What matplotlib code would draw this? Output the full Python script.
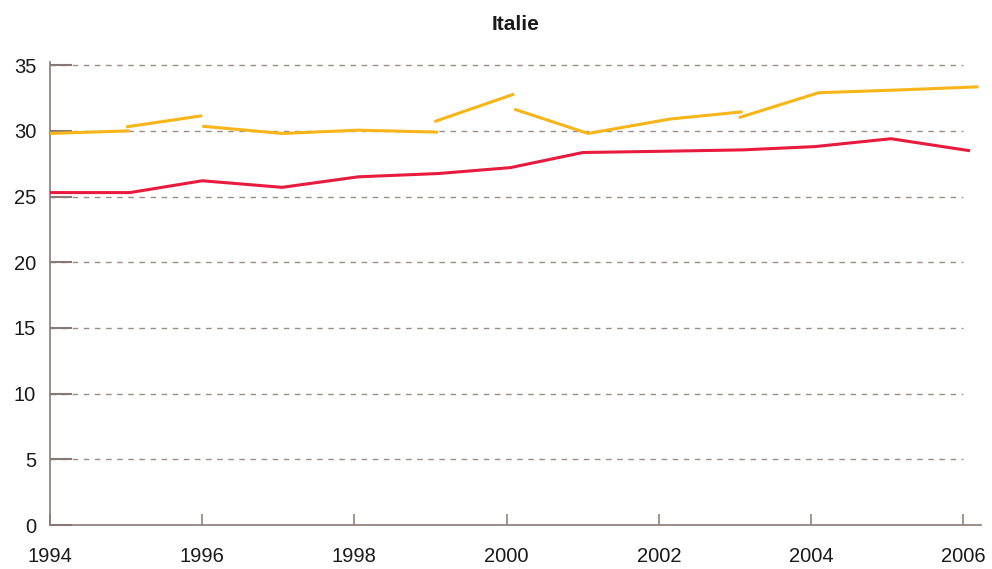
import matplotlib
matplotlib.use("Agg")
import matplotlib.pyplot as plt

plt.rcParams['font.family'] = ['Liberation Sans', 'DejaVu Sans']

# ----------------------------------------------------------------------
# Data (fractional years, percent)
# ----------------------------------------------------------------------
# Yellow series is drawn as separate, unconnected pieces
yellow_x = [
    [1994.0, 1995.05],
    [1995.0, 1996.0],
    [1996.0, 1997.05, 1998.05, 1999.1],
    [1999.05, 2000.1],
    [2000.1, 2001.07, 2002.15, 2003.1],
    [2003.05, 2004.1, 2005.1, 2006.2],
]
yellow_y = [
    [29.8, 30.0],
    [30.3, 31.15],
    [30.35, 29.8, 30.05, 29.9],
    [30.7, 32.8],
    [31.65, 29.8, 30.9, 31.45],
    [31.0, 32.9, 33.1, 33.35],
]

red_x = [1994.0, 1995.05, 1996.0, 1997.05, 1998.05, 1999.1, 2000.05,
         2001.0, 2002.1, 2003.1, 2004.05, 2005.05, 2006.07]
red_y = [25.3, 25.3, 26.2, 25.7, 26.5, 26.75, 27.2,
         28.35, 28.45, 28.55, 28.8, 29.4, 28.5]

y_ticks = [0, 5, 10, 15, 20, 25, 30, 35]
x_ticks = [1994, 1996, 1998, 2000, 2002, 2004, 2006]

AXIS_COL = "#877a74"
YELLOW = "#f7b518"
RED = "#e81b3f"

# ----------------------------------------------------------------------
fig = plt.figure(figsize=(9.92, 5.69), dpi=100)
ax = fig.add_axes([0.0504, 0.0773, 0.939, 0.814])

# dashed grid lines, stopping at 2006
ax.hlines(y_ticks[1:], x_ticks[0], x_ticks[-1], colors="#9a8d87",
          linestyles=(0, (4, 4)), linewidth=1.0, zorder=1)

for xs, ys in zip(yellow_x, yellow_y):
    ax.plot(xs, ys, color=YELLOW, lw=2.2, solid_capstyle="butt", zorder=3)
ax.plot(red_x, red_y, color=RED, lw=2.2, zorder=3)

ax.set_xlim(1994, 2006.24)
ax.set_ylim(0, 35.25)
ax.set_xticks(x_ticks)
ax.set_yticks(y_ticks)

for side in ("top", "right"):
    ax.spines[side].set_visible(False)
for side in ("left", "bottom"):
    ax.spines[side].set_color(AXIS_COL)
    ax.spines[side].set_linewidth(1.2)

ax.tick_params(axis="y", direction="in", length=16, width=1.5,
               color=AXIS_COL, labelsize=14.5, labelcolor="#1a1a1a", pad=10)
ax.tick_params(axis="x", direction="in", length=8, width=1.1,
               color=AXIS_COL, labelsize=14.5, labelcolor="#1a1a1a", pad=16)

ax.set_title("Italie", fontsize=15, fontweight="bold", color="#1a1a1a",
             pad=23)

fig.savefig("out.png", dpi=100)
